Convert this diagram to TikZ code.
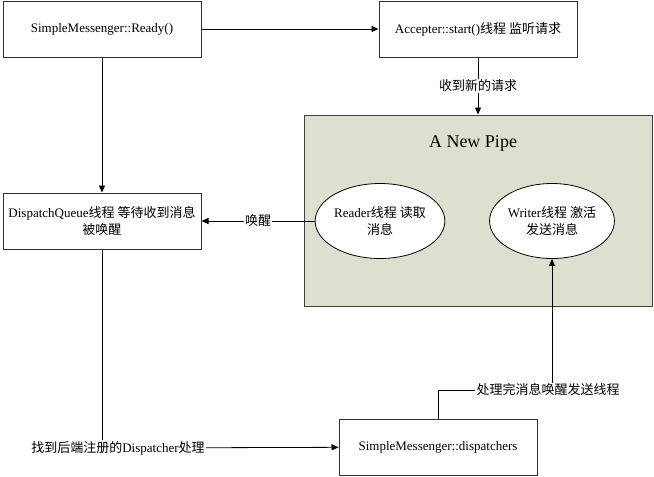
\documentclass[tikz,border=0pt]{standalone}
\usepackage{fontspec}
\setmainfont{Liberation Serif}
\newfontfamily\cjk{Noto Sans CJK SC}
\usetikzlibrary{arrows.meta,shapes.geometric}
\definecolor{pipefill}{RGB}{220,224,206}
\begin{document}
\begin{tikzpicture}[x=1pt,y=-1pt,
  box/.style={draw=black!80,line width=1pt,fill=white,minimum width=198pt,minimum height=56pt,inner sep=0pt,align=center,font=\fontsize{13}{17}\selectfont},
  ell/.style={ellipse,draw=black,line width=0.8pt,fill=white,minimum width=114pt,minimum height=75pt,inner sep=0pt,align=center,font=\fontsize{13}{17}\selectfont},
  lbl/.style={fill=white,inner sep=1pt,font=\fontsize{13}{16}\selectfont},
  arr/.style={-{Triangle[length=7pt,width=6pt]},line width=0.8pt},
  ln/.style={line width=0.8pt}]
\useasboundingbox (0,0) rectangle (654,477);
\node[box] (ready) at (102,29) {SimpleMessenger::Ready()};
\node[box] (acc) at (478,29) {Accepter::start(){\cjk 线程 监听请求}};
\node[box] (dq) at (102,221) {DispatchQueue{\cjk 线程 等待收到消息}\\{\cjk 被唤醒}};
\node[box] (sd) at (438,447) {SimpleMessenger::dispatchers};
\node[draw=black!75,line width=1pt,fill=pipefill,minimum width=348pt,minimum height=191pt,inner sep=0pt] (pipe) at (478,210.5) {};
\node[font=\fontsize{18}{20}\selectfont,inner sep=0pt] (title) at (473,143) {A New Pipe};
\node[ell] (reader) at (380,221) {Reader{\cjk 线程 读取}\\{\cjk 消息}};
\node[ell] (writer) at (552,221) {Writer{\cjk 线程 激活}\\{\cjk 发送消息}};
\node[lbl] (l1) at (118,448) {{\cjk 找到后端注册的}Dispatcher{\cjk 处理}};
\node[lbl] (l2) at (548,390) {\cjk 处理完消息唤醒发送线程};
\draw[arr] (ready) -- (acc);
\draw[arr] (ready) -- (dq);
\draw[arr] (acc) -- node[lbl]{\cjk 收到新的请求} (pipe);
\draw[arr] (reader) -- node[lbl]{\cjk 唤醒} (dq);
\draw[ln] (dq) -- (dq.south |- l1.north);
\draw[arr] (l1) -- (sd);
\draw[ln] (sd.north) |- (l2.west);
\draw[arr] (writer.south |- l2.north) -- (writer);
\end{tikzpicture}
\end{document}
